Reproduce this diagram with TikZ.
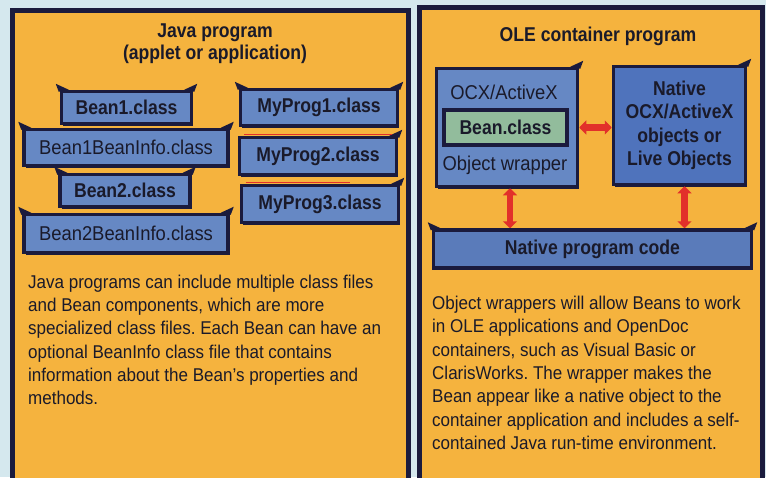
\documentclass[tikz,border=0pt]{standalone}
\usepackage{fontspec}
\setmainfont{Liberation Sans}[FakeStretch=0.92]
\newfontfamily\condfont{Liberation Sans}[FakeStretch=0.88]
\usetikzlibrary{arrows.meta,calc,shadows}
\definecolor{bgblue}{HTML}{D5E8EE}
\definecolor{panel}{HTML}{F5B33E}
\definecolor{navy}{HTML}{1B1B3D}
\definecolor{boxblue}{HTML}{6688C4}
\definecolor{natblue}{HTML}{4F73BC}
\definecolor{codeblue}{HTML}{5A7BBA}
\definecolor{beangreen}{HTML}{92BC9C}
\definecolor{arrowred}{HTML}{E2302A}
\definecolor{ink}{HTML}{1A1A2A}
\newcommand\flapL[1]{\fill[navy] ($(#1.north west)+(-1,2)$) -- ++(-3,-8) -- ++(13,6) -- cycle;}
\newcommand\flapR[1]{\fill[navy] ($(#1.north east)+(1,2)$) -- ++(3,-8) -- ++(-13,6) -- cycle;}
\tikzset{
  panelbox/.style={draw=navy, line width=5pt, fill=panel},
  filebox/.style={draw=navy, line width=3.5pt, fill=boxblue, inner sep=0pt, text=ink,
    drop shadow={shadow xshift=1.5pt, shadow yshift=-2pt, fill=navy, opacity=1}},
  boldlabel/.style={font=\condfont\bfseries\fontsize{20}{23.5}\selectfont},
  reglabel/.style={font=\fontsize{20}{23}\selectfont},
  bodytext/.style={align=left, inner sep=0pt, text=ink, font=\fontsize{18.5}{23.3}\selectfont},
  titletext/.style={align=center, inner sep=0pt, text=ink, font=\condfont\bfseries\fontsize{20}{22}\selectfont},
  link/.style={draw=arrowred, line width=6.5pt, {Triangle[length=7pt,width=14pt]}-{Triangle[length=7pt,width=14pt]}},
  scanline/.style={draw=arrowred, line width=1.2pt}
}
\frenchspacing
\begin{document}
\begin{tikzpicture}[x=1pt,y=-1pt]
\useasboundingbox (0,0) rectangle (766,477);
\fill[bgblue] (0,0) rectangle (766,477);

% panels
\draw[panelbox] (12.5,10.5) rectangle (408,495);
\draw[panelbox] (419,7.5) rectangle (762,495);

% left panel
\node[titletext] (ltitle) at (215,44) {Java program\\(applet or application)};

\node[filebox, boldlabel, minimum width=130, minimum height=32] (b1) at (126.5,107.5) {Bean1.class};
\flapL{b1}\flapR{b1}
\node[filebox, reglabel, minimum width=204, minimum height=36] (b1i) at (126,147.5) {Bean1BeanInfo.class};
\flapL{b1i}\flapR{b1i}
\node[filebox, boldlabel, minimum width=130, minimum height=32] (b2) at (125,190.5) {Bean2.class};
\flapL{b2}\flapR{b2}
\node[filebox, reglabel, minimum width=204, minimum height=38] (b2i) at (126,233.5) {Bean2BeanInfo.class};
\flapL{b2i}\flapR{b2i}

\node[filebox, boldlabel, minimum width=157, minimum height=36] (p1) at (319,107.5) {MyProg1.class};
\flapL{p1}\flapR{p1}
\node[filebox, boldlabel, minimum width=157, minimum height=37] (p2) at (318,156) {MyProg2.class};
\flapR{p2}
\node[filebox, boldlabel, minimum width=157, minimum height=37] (p3) at (320,204) {MyProg3.class};
\flapR{p3}
\draw[scanline] ($(p2.north west)+(6,-1.5)$) -- ($(p2.north east)+(-6,-1.5)$);
\draw[scanline] ($(p3.north west)+(6,-1.5)$) -- ($(p3.north east)+(-50,-1.5)$);

\node[bodytext, anchor=north west] (ltext) at (28,274.5)
{Java programs can include multiple class files\\
and Bean components, which are more\\
specialized class files. Each Bean can have an\\
optional BeanInfo class file that contains\\
information about the Bean's properties and\\
methods.};

% right panel
\node[titletext] (rtitle) at (598,36) {OLE container program};

\node[filebox, minimum width=141, minimum height=118] (ow) at (507,127.5) {};
\flapR{ow}
\node[reglabel, text=ink, inner sep=0pt] (owtop) at (504,92) {OCX/ActiveX};
\node[filebox, boldlabel, fill=beangreen, minimum width=123, minimum height=35] (bc) at (505.5,127.5) {Bean.class};
\node[reglabel, text=ink, inner sep=0pt] (owbot) at (505,165) {Object wrapper};

\node[filebox, boldlabel, fill=natblue, align=center, minimum width=132, minimum height=118] (nat) at (679.5,125.5)
{Native\\OCX/ActiveX\\objects or\\Live Objects};
\flapR{nat}

\node[filebox, boldlabel, fill=codeblue, minimum width=318, minimum height=38] (npc) at (592.5,249) {Native program code};
\flapL{npc}\flapR{npc}

\coordinate (owlink) at ($(ow.south)+(3,0)$);
\coordinate (natlink) at ($(nat.south)+(5,0)$);
\draw[link] (ow.east) -- (ow.east -| nat.west);
\draw[link] (owlink) -- (owlink |- npc.north);
\draw[link] (natlink) -- (natlink |- npc.north);

\node[bodytext, anchor=north west] (rtext) at (432,296)
{Object wrappers will allow Beans to work\\
in OLE applications and OpenDoc\\
containers, such as Visual Basic or\\
ClarisWorks. The wrapper makes the\\
Bean appear like a native object to the\\
container application and includes a self-\\
contained Java run-time environment.};
\end{tikzpicture}
\end{document}
